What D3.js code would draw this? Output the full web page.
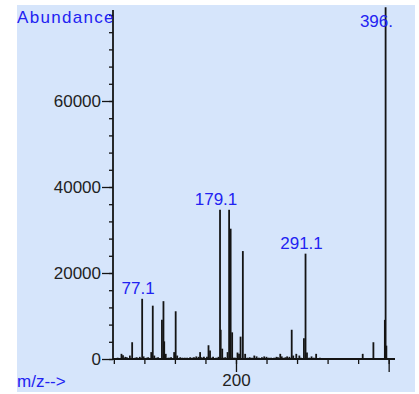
<!DOCTYPE html>
<html>
<head>
<meta charset="utf-8">
<script src="https://cdn.jsdelivr.net/npm/d3@7/dist/d3.min.js"></script>
<style>
  html, body { margin: 0; padding: 0; background: #ffffff; }
  svg { display: block; }
  text { font-family: Arial, "Liberation Sans", sans-serif; }
</style>
</head>
<body>
<svg id="chart" width="419" height="394"></svg>
<script>
// Mass spectrum: m/z of each ion and its abundance
const mz = [
  45, 50, 52, 55, 57, 61, 64, 68, 70, 74, 77.1, 79, 83, 85, 89, 91, 93, 96, 98,
  103, 105, 106, 108, 111, 113, 115, 119, 121, 123, 127, 130, 133, 136, 140, 143,
  145, 148, 151, 153, 155, 158, 162, 164, 166, 168, 170, 174, 177, 179.1, 180, 182,
  184, 186, 189, 191, 193, 195, 197, 199, 202, 204, 206, 209, 212, 215, 218, 221,
  224, 227, 230, 234, 237, 240, 243, 246, 250, 253, 255, 258, 260, 263, 265, 267,
  270, 273, 275, 279, 283, 285, 289, 291.1, 293, 296, 299, 302, 305, 310, 366, 380,
  395, 396, 397
];
const abundance = [
  300, 1200, 900, 500, 400, 800, 3900, 300, 400, 500, 14000, 600, 300, 400, 1600, 12400, 800, 300, 400,
  9100, 13450, 4100, 1200, 300, 300, 400, 1600, 11100, 800, 400, 300, 300, 300, 400, 300,
  400, 600, 500, 1600, 400, 500, 500, 3200, 2000, 300, 500, 300, 500, 34700, 6800, 2400,
  300, 400, 1600, 34700, 30300, 6200, 300, 300, 1500, 1200, 5200, 25100, 1200, 300, 400, 300,
  800, 600, 300, 400, 600, 500, 300, 300, 300, 500, 400, 1200, 600, 300, 400, 600,
  500, 6800, 800, 1200, 800, 300, 4800, 24500, 1500, 300, 600, 300, 1200, 300, 1200, 3900,
  9100, 81800, 3100
];

// Peaks annotated with their m/z value
const labelledPeaks = [77.1, 179.1, 291.1, 396];
const labelText = ["77.1", "179.1", "291.1", "396."];

// Axis ticks
const yMinorTicks = d3.range(0, 80001, 4000);
const yMajorTicks = [0, 20000, 40000, 60000];
const xMinorTicks = d3.range(40, 401, 40);
const xMajorTicks = [200, 400];
const xTickLabels = [200];

const svg = d3.select("#chart");

// Plot panel
svg.append("rect")
  .attr("x", 17).attr("y", 5)
  .attr("width", 398).attr("height", 387)
  .attr("fill", "#d6e5fb");

const x = d3.scaleLinear().domain([38.9, 408.3]).range([113, 395]);
const y = d3.scaleLinear().domain([0, 81160]).range([359, 10]);

const ink = "#141414";
const blue = "#2222f2";

// Y axis: minor and major ticks
const gyMinor = svg.append("g").attr("transform", "translate(113,0)")
  .call(d3.axisLeft(y).tickValues(yMinorTicks).tickSize(4).tickFormat(""));
const gyMajor = svg.append("g").attr("transform", "translate(113,0)")
  .call(d3.axisLeft(y).tickValues(yMajorTicks).tickSize(11).tickPadding(1).tickFormat(d3.format("d")));

// X axis: minor and major ticks
const gxMinor = svg.append("g").attr("transform", "translate(0,359)")
  .call(d3.axisBottom(x).tickValues(xMinorTicks).tickSize(5).tickFormat(""));
const gxMajor = svg.append("g").attr("transform", "translate(0,359)")
  .call(d3.axisBottom(x).tickValues(xMajorTicks).tickSize(13).tickPadding(2)
    .tickFormat(d => xTickLabels.includes(d) ? d3.format("d")(d) : ""));

[gyMinor, gyMajor, gxMinor, gxMajor].forEach(g => {
  g.select(".domain").remove();
  g.selectAll("line").attr("stroke", ink).attr("stroke-width", 1.3);
  g.selectAll("text").attr("fill", "#222").style("font-size", "17px")
    .style("font-family", "Arial, 'Liberation Sans', sans-serif");
});

// Axis lines
svg.append("line").attr("x1", 113).attr("x2", 113).attr("y1", y.range()[1]).attr("y2", 359)
  .attr("stroke", ink).attr("stroke-width", 1.8);
svg.append("line").attr("x1", 113).attr("x2", x.range()[1]).attr("y1", 359).attr("y2", 359)
  .attr("stroke", ink).attr("stroke-width", 1.8);

// Spectrum sticks
const peaks = mz.map((m, i) => ({ m, a: abundance[i] }));
svg.append("g").selectAll("line").data(peaks).join("line")
  .attr("x1", d => x(d.m)).attr("x2", d => x(d.m))
  .attr("y1", y(0)).attr("y2", d => y(d.a))
  .attr("stroke", ink).attr("stroke-width", 1.8);

// Peak annotations
const labelG = svg.append("g");
labelledPeaks.forEach((m, i) => {
  const a = abundance[mz.indexOf(m)];
  const t = labelG.append("text")
    .attr("text-anchor", "middle")
    .attr("fill", blue)
    .style("font-size", "17px")
    .text(labelText[i]);
  const w = t.node().getComputedTextLength();
  let cx = x(m) - 4;
  if (cx + w / 2 > 393) cx = 393 - w / 2;
  const by = Math.max(27, y(a) - 4.5);
  t.attr("x", cx).attr("y", by);
});

// Axis titles
svg.append("text").attr("x", 17).attr("y", 23)
  .attr("fill", blue).style("font-size", "17px").style("letter-spacing", "1.3px")
  .text("Abundance");
svg.append("text").attr("x", 17).attr("y", 387)
  .attr("fill", blue).style("font-size", "17px")
  .text("m/z-->");
</script>
</body>
</html>
